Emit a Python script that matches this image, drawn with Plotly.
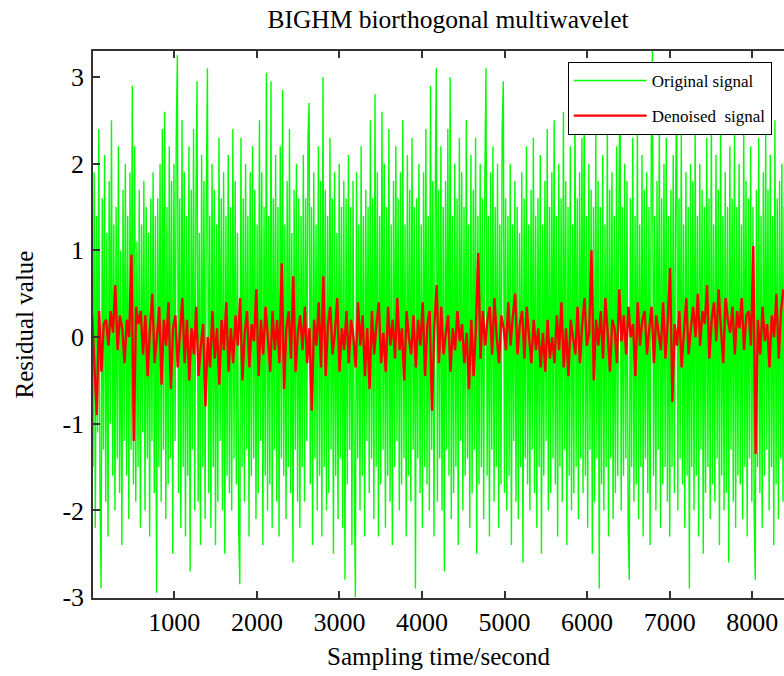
import plotly.graph_objects as go

# Sampling: original signal every 14 s starting at 1, denoised every 28 s starting at 5
orig_start, orig_step = 1, 14
den_start, den_step = 5, 28

original_signal = [
    2.3,-1.5,1.9,-2.2,1.4,-1.1,2.4,-1.7,-2.9,1.6,-1.3,2.1,-1.9,1.2,-2.3,1.8,-1.0,2.5,-1.6,1.3,
    -2.0,1.5,-1.4,2.2,-1.8,1.0,-2.4,1.7,-1.2,2.0,-1.6,1.4,-2.1,1.9,-1.3,2.9,-1.7,2.2,-1.9,1.1,
    -1.5,1.7,-2.2,1.3,-1.1,1.8,-2.0,1.5,-1.4,1.2,-2.3,1.6,-1.2,1.9,-1.8,1.4,-2.95,1.6,-1.5,2.0,
    -1.9,2.4,-1.3,2.6,-2.1,1.5,-1.7,2.2,-1.4,1.8,-2.5,2.0,-1.2,2.3,3.25,-1.8,1.6,-2.2,2.5,-1.5,
    1.9,-2.3,1.4,-1.6,2.2,-2.7,1.7,-1.3,2.4,-2.0,1.5,2.95,-1.9,1.2,-2.4,2.1,-1.5,1.8,-2.1,1.6,
    3.1,-1.8,1.4,-2.2,2.0,-1.5,1.7,-2.4,1.3,-1.9,2.3,-1.2,1.6,-2.0,1.9,-2.5,1.4,-1.6,2.1,-1.8,
    1.5,-2.0,2.4,-1.4,1.8,-1.7,1.2,-2.2,-2.85,2.3,-1.5,1.6,-1.9,2.0,-1.3,1.4,-2.3,1.9,-1.6,2.2,
    -1.4,1.7,-2.1,1.3,-1.8,2.5,-1.2,1.9,-2.4,1.5,-1.6,3.05,-2.0,1.4,-1.7,2.95,-2.2,1.6,-1.3,2.1,
    -1.9,1.5,-2.3,2.2,-1.4,2.85,-1.6,1.3,-2.1,1.8,-1.5,2.4,-1.8,1.2,-2.6,1.7,-1.3,2.0,-1.9,1.6,
    -2.2,1.4,-1.5,2.1,-1.9,1.6,-1.2,2.3,2.7,-1.7,1.5,-2.4,1.9,-1.4,1.3,-2.0,2.2,-1.6,1.8,-2.3,
    3.0,-1.5,1.7,-2.0,1.4,-1.8,2.3,-1.3,1.6,-2.5,1.9,-1.6,1.2,-2.1,2.0,-1.4,1.5,-2.2,1.8,-2.8,
    1.6,-1.7,2.1,-1.3,1.5,-2.4,1.8,-1.5,-3.0,1.9,-1.4,1.3,-2.0,2.2,-1.6,1.4,-2.3,1.7,-1.2,1.5,
    -1.8,2.5,-1.4,1.6,-2.1,2.8,-1.5,1.9,-2.3,1.4,-1.7,2.6,-1.3,2.0,-2.2,1.5,-1.6,2.4,-1.9,1.3,
    -2.4,1.8,-1.5,2.2,-1.2,1.6,-2.0,1.9,-1.7,2.5,-1.4,1.3,-2.3,2.1,-1.6,1.7,-1.9,2.3,-1.3,1.5,
    -2.9,1.6,-1.4,2.0,-1.8,1.3,-2.2,1.9,-1.5,2.4,-1.7,1.4,-2.0,2.9,-1.3,1.8,-2.3,1.5,3.1,-1.9,
    1.7,-1.4,2.2,-2.0,1.5,-2.7,1.8,-1.3,2.4,-1.6,3.0,-2.1,1.4,-1.8,2.0,-1.5,1.6,-2.4,2.3,-1.2,
    1.9,-2.0,1.5,-1.6,2.5,-1.4,1.3,-2.2,2.1,-1.8,1.7,-1.3,2.3,-2.5,1.4,-1.7,2.0,-1.5,1.6,-2.1,
    1.8,3.1,-1.6,1.4,-2.3,1.9,-1.3,2.2,-1.9,1.5,-1.5,2.0,-2.2,1.3,-1.7,2.4,2.95,-1.8,1.6,-2.0,
    1.4,-1.6,2.0,-2.4,1.3,-1.2,1.8,-1.9,1.5,-2.1,1.2,-1.5,1.9,-2.6,1.6,-1.4,2.2,-1.7,1.3,-2.0,
    1.7,-1.3,2.3,-1.8,1.4,-2.2,1.6,-1.5,2.1,-2.5,1.3,-1.6,1.8,-1.2,2.4,-2.0,1.5,-1.8,1.9,-1.4,
    2.5,-1.7,1.4,-2.3,2.0,-1.5,1.6,-1.9,2.6,-1.3,1.8,-2.4,1.5,-1.6,2.2,-2.0,1.3,-1.8,2.8,-1.5,
    1.6,-2.1,1.9,-1.4,2.3,-1.8,3.0,-1.6,1.4,-2.2,2.0,-1.3,1.7,-2.5,1.5,-1.9,2.4,-1.4,1.8,-2.9,
    1.5,-1.7,2.1,-2.0,1.3,-1.5,2.5,-2.3,1.7,-1.4,1.9,-2.1,1.4,-1.8,2.2,-1.6,1.6,3.1,-2.0,1.5,
    -1.6,2.0,-1.4,1.8,-2.2,-2.8,1.6,-1.5,2.3,-1.9,1.4,-1.7,2.5,-2.1,1.3,-1.5,2.1,-2.3,1.7,-1.4,
    1.9,-1.8,1.5,-2.4,2.2,3.3,-1.6,1.4,-2.0,1.8,-1.3,2.6,-2.2,1.6,-1.7,2.0,-1.5,2.3,-1.9,1.4,
    -2.3,1.7,-1.5,2.1,-1.8,1.5,2.9,-2.0,1.6,-1.4,2.4,-1.7,1.3,-2.2,1.9,-1.6,1.5,-2.9,2.0,-1.5,
    1.8,-2.0,2.5,-1.6,1.4,-2.3,2.0,-1.3,1.7,-2.5,1.5,-1.8,2.3,-1.5,1.6,-2.1,2.6,-1.7,1.3,-1.9,
    2.1,-1.4,1.7,-2.4,2.7,-1.6,1.4,-2.0,1.9,-1.8,1.5,-2.6,2.2,-1.3,1.6,-1.9,2.4,-2.2,1.5,-1.6,
    2.0,-1.7,1.3,-2.1,2.5,-1.5,1.8,-2.3,1.6,-1.4,2.2,-1.9,1.5,-2.0,-2.8,1.7,-1.5,2.3,-1.8,1.4,
    -2.2,1.9,-1.6,2.4,-1.3,1.7,-2.0,2.1,-1.5,1.4,-2.4,2.5,-1.7,1.6,-2.1,1.8,-1.4,2.0,-1.9,1.5,
]

denoised_signal = [
    0.25,-0.35,-0.9,0.3,-0.4,0.15,0.2,-0.1,0.3,0.05,0.6,-0.15,0.25,0.1,-0.3,0.2,0.0,0.95,-1.2,0.35,
    0.15,0.3,-0.2,0.25,-0.45,0.1,0.5,-0.3,0.0,0.35,-0.55,0.2,-0.1,0.4,-0.6,0.1,0.25,-0.35,0.05,0.45,
    -0.3,0.2,-0.5,0.1,-0.2,0.35,-0.45,-0.1,0.15,-0.8,0.0,-0.35,0.3,-0.25,0.1,-0.55,0.2,-0.15,0.4,-0.4,
    0.1,-0.3,0.25,-0.1,0.45,-0.5,0.05,0.3,-0.35,0.15,-0.05,0.55,-0.45,0.2,-0.2,0.35,0.0,-0.4,0.3,-0.15,
    0.2,-0.3,0.85,-0.6,0.1,0.3,-0.25,0.7,-0.4,0.05,0.25,-0.15,0.35,-0.3,0.1,-0.85,0.2,-0.1,0.4,-0.35,
    0.7,-0.45,0.15,0.35,-0.2,0.05,0.45,-0.4,0.1,-0.15,0.3,-0.3,0.2,0.0,-0.35,0.4,-0.1,0.25,-0.45,0.1,
    -0.6,0.3,-0.2,0.15,0.4,-0.3,0.05,-0.4,0.35,-0.1,0.2,-0.25,0.45,-0.15,0.1,-0.5,0.3,0.0,-0.2,0.25,
    -0.35,0.2,-0.1,0.4,-0.45,0.15,0.3,-0.85,0.1,0.6,-0.3,0.35,-0.2,0.05,0.25,-0.4,0.1,-0.15,0.3,-0.05,
    0.15,-0.3,0.05,-0.6,0.2,-0.45,0.1,0.97,-0.25,0.3,-0.1,0.2,0.35,-0.2,0.45,0.0,-0.3,0.25,0.1,-0.15,
    0.4,-0.1,0.25,0.5,-0.2,0.15,0.3,-0.25,0.35,0.0,-0.3,0.2,-0.15,0.1,-0.35,0.05,-0.4,0.2,-0.25,0.0,
    -0.3,0.25,-0.15,0.4,-0.35,0.1,-0.45,0.2,0.0,-0.2,0.35,-0.3,0.15,0.45,-0.1,0.05,1.0,-0.5,0.2,-0.1,
    0.3,-0.25,0.45,0.05,-0.4,0.2,0.1,-0.3,0.55,-0.05,0.25,-0.2,0.35,0.0,0.15,-0.45,0.4,-0.1,0.2,0.3,
    -0.2,0.1,0.35,-0.3,0.25,0.05,-0.15,0.4,-0.25,0.2,0.8,-0.75,0.15,-0.1,0.3,-0.35,0.05,0.45,-0.2,0.1,
    0.35,0.0,0.5,-0.1,0.3,0.15,0.6,-0.25,0.2,0.4,-0.05,0.55,0.1,-0.3,0.45,0.2,0.05,0.35,-0.2,0.3,
    0.1,0.45,-0.15,0.25,0.3,-0.1,1.05,-1.35,0.2,-0.2,0.35,-0.05,0.15,-0.35,0.25,0.0,0.5,-0.25,0.3,0.55,
]

x_ticks = [1000, 2000, 3000, 4000, 5000, 6000, 7000, 8000]
y_ticks = [-3, -2, -1, 0, 1, 2, 3]
y_tick_text = ["-3", "-2", "-1", "0", "1", "2", "3"]

title_text = "BIGHM biorthogonal multiwavelet"
x_title = "Sampling time/second"
y_title = "Residual value"
legend_names = ["Original signal", "Denoised\u00a0 signal"]

orig_x = [orig_start + orig_step * i for i in range(len(original_signal))]
den_x = [den_start + den_step * i for i in range(len(denoised_signal))]

FONT = "Liberation Serif, Times New Roman, serif"
AX = "#333333"
TICKFONT = dict(size=26, family=FONT, color="black")

fig = go.Figure()
fig.add_trace(go.Scatter(x=orig_x, y=original_signal, mode="lines", name=legend_names[0],
                         line=dict(color="#00ff00", width=1.4, simplify=False), legendgroup="a"))
fig.add_trace(go.Scatter(x=den_x, y=denoised_signal, mode="lines", name=legend_names[1],
                         line=dict(color="#ff0000", width=2.4, simplify=False), legendgroup="b"))

yrange = [-3.01, 3.3]
fig.update_layout(
    width=784, height=676,
    margin=dict(l=93, r=0, t=51, b=78),
    paper_bgcolor="white", plot_bgcolor="white",
    font=dict(family=FONT, color="black"),
    title=dict(text=title_text, x=448/784, xanchor="center", xref="container",
               y=1 - 19/676, yanchor="middle", yref="container",
               font=dict(size=25.5, family=FONT, color="black")),
    showlegend=True,
    legend=dict(x=0.687, xanchor="left", y=0.98, yanchor="top",
                bgcolor="white", bordercolor="black", borderwidth=1,
                font=dict(size=17, family=FONT, color="black"),
                itemwidth=73, tracegroupgap=10),
    xaxis=dict(range=[15, 8385], tickvals=x_ticks, ticks="inside", ticklen=7,
               tickcolor=AX, tickwidth=1.5, showline=True, linecolor=AX, linewidth=1.5,
               mirror="ticks", showgrid=False, zeroline=False,
               tickfont=TICKFONT, ticklabelstandoff=0,
               title=dict(text=x_title, font=dict(size=25, family=FONT, color="black"),
                          standoff=12)),
    yaxis=dict(range=yrange, tickvals=y_ticks, ticktext=y_tick_text, ticks="inside",
               ticklen=7, tickcolor=AX, tickwidth=1.5, showline=True, linecolor=AX,
               linewidth=1.5, showgrid=False, zeroline=False,
               tickfont=TICKFONT, ticklabelstandoff=2,
               title=dict(text=y_title, font=dict(size=25, family=FONT, color="black"),
                          standoff=22)),
    yaxis2=dict(range=yrange, tickvals=y_ticks, ticks="inside", ticklen=6, tickcolor=AX,
                tickwidth=1.5, overlaying="y", side="right", showticklabels=False,
                showline=False, showgrid=False, zeroline=False),
)

fig.write_html("out.html")
